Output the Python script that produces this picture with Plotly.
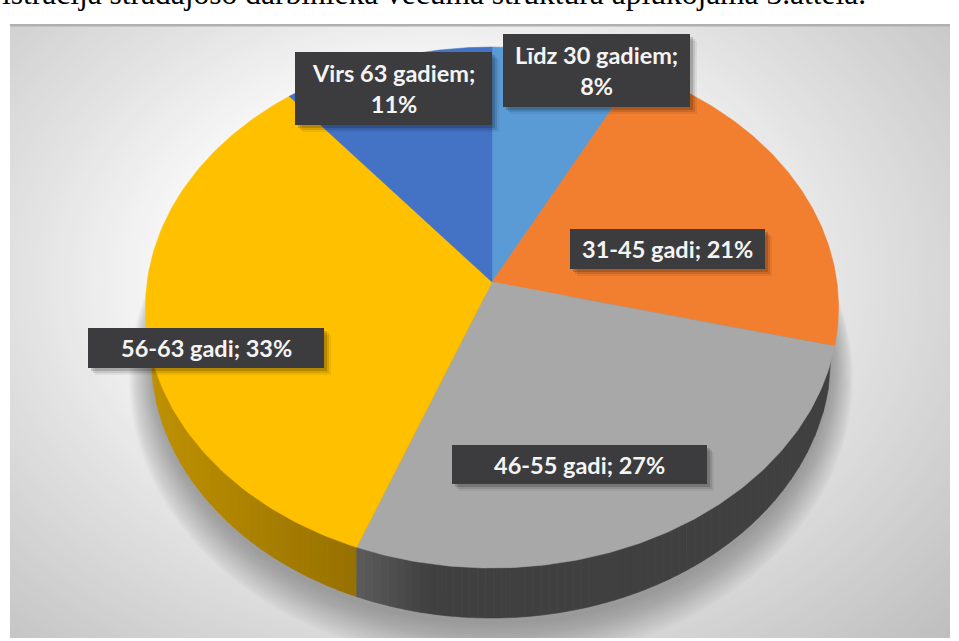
import numpy as np
import plotly.graph_objects as go

# ---- data ----
categories = ["Līdz 30 gadiem", "31-45 gadi", "46-55 gadi", "56-63 gadi", "Virs 63 gadiem"]
shares = [7.6, 21.3, 26.9, 33.3, 10.9]
top_colors = ["#5b9bd5", "#f27e30", "#a8a8a8", "#ffc000", "#4472c4"]
caption = "istrācija strādājošo darbinieka vecuma struktūra aplūkojama 3.attēlā."

# ---- label boxes (x0, x1, y0, y1) and line breaks, in the axes' pixel-like units ----
boxes = [(503, 690, 34, 107), (570, 765, 229, 269), (452, 707, 445, 484),
         (88, 324, 328, 368), (295, 492, 52, 125)]
two_lines = [True, False, False, False, True]

W, H = 959, 641
XR, YR = (10, 950), (638, 24)
HUB = (492.0, 282.0)
K, A, C = 344.9, 258.0, -0.0979           # projection of the disc
BOT = (491.0, 356.0, 340.0, 262.0)        # lower rim ellipse


def rim(t):
    u, v = np.sin(t), -np.cos(t)
    d = 1 + C * v
    return HUB[0] + K * u / d, HUB[1] + A * v / d


def rim_bottom_y(x):
    return BOT[1] + BOT[3] * np.sqrt(np.clip(1 - ((x - BOT[0]) / BOT[2]) ** 2, 0, 1))


def hexmix(c1, c2, f):
    a = [int(c1[i:i + 2], 16) for i in (1, 3, 5)]
    b = [int(c2[i:i + 2], 16) for i in (1, 3, 5)]
    return "#%02x%02x%02x" % tuple(round(p + (q - p) * f) for p, q in zip(a, b))


fig = go.Figure()
shapes = []

# ---- backdrop: soft radial gradient ----
stops = [(0.40, "#ffffff"), (0.75, "#e2e2e2"), (1.0, "#d0d0d0"), (1.25, "#bebebe")]
rs = np.linspace(1.5, 0.4, 110)
for r in rs:
    col = stops[-1][1]
    for (r0, c0), (r1, c1) in zip(stops, stops[1:]):
        if r0 <= r <= r1:
            col = hexmix(c0, c1, (r - r0) / (r1 - r0))
    shapes.append(dict(type="circle", xref="x", yref="y", layer="below",
                       x0=440 - 560 * r, x1=440 + 560 * r,
                       y0=280 - 420 * r, y1=280 + 420 * r,
                       fillcolor=col, line_width=0))
shapes.append(dict(type="line", xref="x", yref="y", layer="below", x0=10, x1=950, y0=25, y1=25,
                   line=dict(color="#b0b0b0", width=3)))

# ---- soft shadow below the disc ----
for k in np.linspace(40, 0, 24):
    shapes.append(dict(type="circle", xref="x", yref="y", layer="below",
                       x0=BOT[0] - BOT[2] - k * 0.55, x1=BOT[0] + BOT[2] + k * 0.55,
                       y0=BOT[1] - BOT[3], y1=BOT[1] + BOT[3] + k + 6,
                       fillcolor="rgba(70,70,70,0.022)", line_width=0))

# ---- slices from the shares ----
edges = np.cumsum([0] + shares) / sum(shares) * 2 * np.pi
split_x = float(rim(edges[3])[0])

# side wall: drawn in thin strips so the shade can change along it
xs_y = np.linspace(BOT[0] - BOT[2], split_x, 36)
for x0, x1 in zip(xs_y, xs_y[1:]):
    f = (x0 - xs_y[0]) / (xs_y[-1] - xs_y[0])
    c = hexmix("#bf9100", "#967000", f)
    xx = np.linspace(x0, x1, 4)
    fig.add_trace(go.Scatter(x=[x0, *xx, x1], y=[BOT[1] - 60, *rim_bottom_y(xx), BOT[1] - 60],
                             mode="lines", fill="toself", fillcolor=c, line=dict(color=c, width=0.6),
                             hoverinfo="skip", showlegend=False))
xs_g = np.linspace(split_x, BOT[0] + BOT[2], 60)
for x0, x1 in zip(xs_g, xs_g[1:]):
    f = min((x0 - split_x) / 70.0, 1.0)
    c = hexmix("#5a5a5a", "#404040", f)
    xx = np.linspace(x0, x1, 4)
    fig.add_trace(go.Scatter(x=[x0, *xx, x1], y=[BOT[1] - 60, *rim_bottom_y(xx), BOT[1] - 60],
                             mode="lines", fill="toself", fillcolor=c, line=dict(color=c, width=0.6),
                             hoverinfo="skip", showlegend=False))

# top face
for i, cat in enumerate(categories):
    t = np.linspace(edges[i], edges[i + 1], 120)
    rx, ry = rim(t)
    fig.add_trace(go.Scatter(x=[HUB[0], *rx, HUB[0]], y=[HUB[1], *ry, HUB[1]],
                             mode="lines", fill="toself", fillcolor=top_colors[i],
                             line=dict(color=top_colors[i], width=0.5),
                             name=cat, text=f"{cat}; {round(shares[i])}%",
                             hoverinfo="text", showlegend=False))

# ---- data labels ----
annotations = []
for i, (x0, x1, y0, y1) in enumerate(boxes):
    for off, alpha in ((7, 0.06), (5, 0.10), (3, 0.16)):
        shapes.append(dict(type="rect", xref="x", yref="y", layer="above",
                           x0=x0 + off, x1=x1 + off, y0=y0 + off, y1=y1 + off,
                           fillcolor=f"rgba(0,0,0,{alpha})", line_width=0))
    shapes.append(dict(type="rect", xref="x", yref="y", layer="above",
                       x0=x0, x1=x1, y0=y0, y1=y1, fillcolor="#3c3c3e", line_width=0))
    sep = ";<br>" if two_lines[i] else "; "
    annotations.append(dict(x=(x0 + x1) / 2, y=(y0 + y1) / 2, xref="x", yref="y",
                            text=f"{categories[i]}{sep}{round(shares[i])}%", showarrow=False,
                            font=dict(family="Lato", size=23.5, color="#f4f4f4", weight="bold"),
                            align="center", xanchor="center", yanchor="middle"))

annotations.append(dict(x=0, y=1, xref="paper", yref="paper", text=caption, showarrow=False, xanchor="left",
                        yanchor="bottom", yshift=11, xshift=-10,
                        font=dict(family="Liberation Serif", size=31.5, color="#000000")))

fig.update_layout(
    width=W, height=H, margin=dict(l=10, r=9, t=24, b=3),
    paper_bgcolor="#ffffff", plot_bgcolor="#bcbcbc",
    xaxis=dict(range=list(XR), visible=False, fixedrange=True),
    yaxis=dict(range=list(YR), visible=False, fixedrange=True),
    shapes=shapes, annotations=annotations, showlegend=False,
)
fig.write_html("out.html", config={"displayModeBar": False},
               post_script="document.body.style.margin='0';document.body.style.overflow='hidden';")
